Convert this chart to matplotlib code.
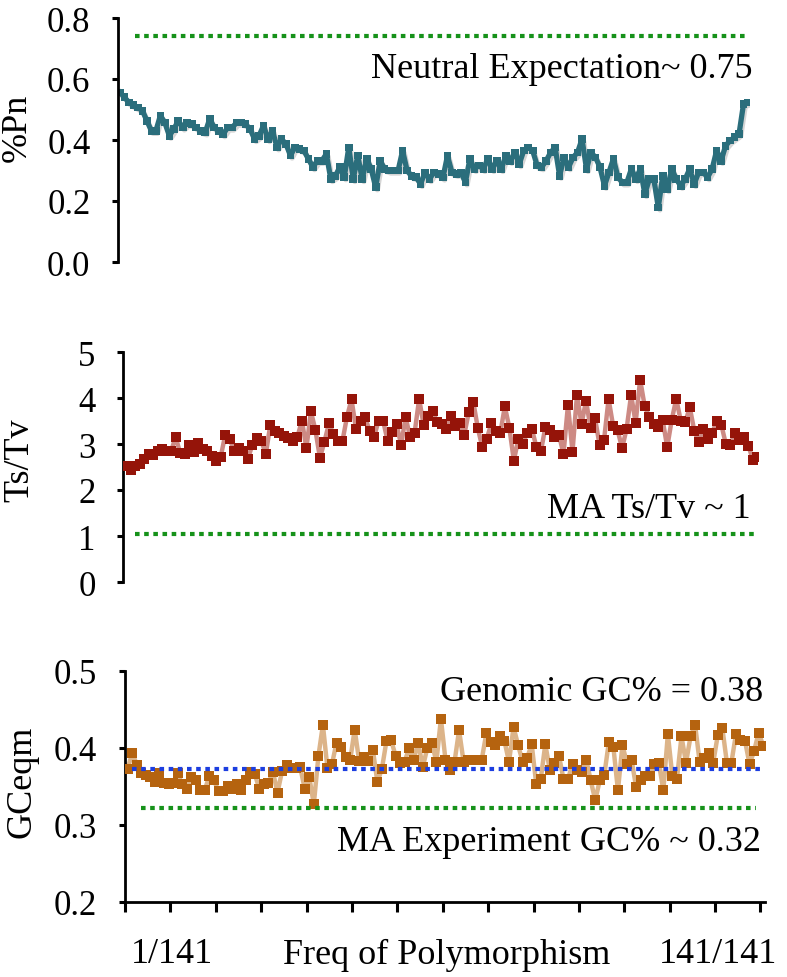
import numpy as np
import matplotlib.pyplot as plt
import matplotlib.patheffects as pe

# values, one per frequency class (1/141 .. 141/141)
pn = [0.556, 0.540, 0.523, 0.514, 0.506, 0.496, 0.463, 0.430, 0.430, 0.480,
      0.457, 0.414, 0.436, 0.463, 0.441, 0.455, 0.452, 0.441, 0.430, 0.425,
      0.469, 0.441, 0.430, 0.419, 0.441, 0.441, 0.457, 0.457, 0.452, 0.436,
      0.403, 0.414, 0.447, 0.403, 0.430, 0.376, 0.403, 0.387, 0.349, 0.376,
      0.371, 0.365, 0.338, 0.311, 0.332, 0.332, 0.354, 0.272, 0.282, 0.311,
      0.278, 0.376, 0.272, 0.349, 0.272, 0.338, 0.305, 0.245, 0.332, 0.305,
      0.300, 0.300, 0.300, 0.365, 0.300, 0.282, 0.278, 0.256, 0.294, 0.272,
      0.294, 0.289,
      0.277, 0.348, 0.294, 0.289, 0.294, 0.261, 0.338, 0.305, 0.316, 0.305,
      0.338, 0.305, 0.332, 0.305, 0.348, 0.332, 0.359, 0.321, 0.365, 0.376,
      0.365, 0.316, 0.311, 0.332, 0.359, 0.376, 0.283, 0.343, 0.311, 0.343,
      0.359, 0.403, 0.305, 0.359, 0.343, 0.311, 0.250, 0.294, 0.338, 0.278,
      0.261, 0.261, 0.305, 0.272, 0.305, 0.223, 0.272, 0.272, 0.179, 0.283,
      0.239, 0.305, 0.272, 0.250, 0.272, 0.305, 0.256, 0.294, 0.294, 0.278,
      0.305, 0.365, 0.332, 0.381, 0.398, 0.409, 0.420, 0.518, 0.523]

tstv = [2.53, 2.43, 2.53, 2.57, 2.67, 2.78, 2.77, 2.84, 2.89, 2.85,
        2.84, 3.16, 2.80, 2.78, 2.98, 2.82, 3.02, 2.89, 2.84, 2.75,
        2.64, 2.72, 3.20, 3.11, 2.84, 2.92, 2.85, 2.67, 2.98, 3.13,
        3.07, 2.78, 3.42, 3.29, 3.23, 3.18, 3.13, 3.06, 3.15, 3.51,
        2.91, 3.71, 3.30, 2.70, 3.05, 3.45, 3.22, 3.07, 3.07, 3.59,
        3.97, 3.33, 3.51, 3.58, 3.29, 3.15, 3.51, 3.51, 3.07, 3.27,
        3.43, 2.98, 3.58, 3.15, 3.25, 3.98, 3.41, 3.61, 3.72, 3.47,
        3.43,
        3.33, 3.61, 3.40, 3.45, 3.20, 3.69, 3.92, 3.35, 2.93, 3.11,
        3.45, 3.29, 3.24, 3.82, 3.35, 2.64, 3.11, 3.01, 3.25, 3.33,
        2.93, 2.84, 3.38, 3.30, 3.16, 3.20, 2.78, 3.85, 2.83, 4.07,
        3.43, 3.94, 3.35, 3.56, 2.98, 3.09, 3.98, 3.40, 3.30, 2.91,
        3.33, 4.07, 3.46, 4.40, 3.83, 3.59, 3.43, 3.38, 3.52, 2.93,
        3.52, 3.98, 3.51, 3.47, 3.80, 3.29, 3.04, 3.33, 3.11, 3.24,
        3.51, 3.42, 3.00, 2.98, 3.24, 3.09, 3.16, 2.96, 2.66, 2.72]

gc = [0.373, 0.394, 0.378, 0.367, 0.365, 0.362, 0.356, 0.367, 0.354, 0.353,
      0.354, 0.367, 0.353, 0.347, 0.362, 0.358, 0.345, 0.346, 0.364, 0.358,
      0.344, 0.344, 0.351, 0.347, 0.353, 0.346, 0.358, 0.369, 0.366, 0.347,
      0.353, 0.355, 0.369, 0.342, 0.370, 0.378, 0.374, 0.374, 0.375, 0.347,
      0.362, 0.327, 0.389, 0.430, 0.374, 0.379, 0.407, 0.401, 0.388, 0.384,
      0.424, 0.383, 0.388, 0.383, 0.398, 0.356, 0.373, 0.409, 0.411, 0.390,
      0.381, 0.382, 0.400, 0.385, 0.407, 0.375, 0.400, 0.407, 0.382, 0.438,
      0.385,
      0.371, 0.382, 0.423, 0.382, 0.385, 0.385, 0.385, 0.385, 0.419, 0.408,
      0.404, 0.415, 0.409, 0.382, 0.427, 0.404, 0.382, 0.387, 0.405, 0.353,
      0.360, 0.405, 0.371, 0.381, 0.390, 0.360, 0.360, 0.379, 0.371, 0.369,
      0.385, 0.358, 0.332, 0.358, 0.365, 0.408, 0.401, 0.345, 0.404, 0.379,
      0.385, 0.349, 0.358, 0.363, 0.363, 0.379, 0.381, 0.345, 0.418, 0.363,
      0.360, 0.415, 0.381, 0.415, 0.430, 0.382, 0.387, 0.394, 0.381, 0.417,
      0.426, 0.381, 0.381, 0.418, 0.410, 0.409, 0.379, 0.396, 0.420, 0.403]

neutral_pn = 0.74
ma_tstv = 1.04
genomic_gc = 0.373
ma_gc = 0.322

plt.rcParams['font.family'] = ['Liberation Serif', 'DejaVu Serif']

W, H = 787, 978
fig = plt.figure(figsize=(W / 100, H / 100), dpi=100)


def make_ax(left, right, top, bottom):
    return fig.add_axes([left / W, 1 - bottom / H, (right - left) / W, (bottom - top) / H])


green = '#16921a'
dot = (0, (1.1, 1.1))
fs = 26


def style(ax):
    for s in ['top', 'right']:
        ax.spines[s].set_visible(False)
    ax.spines['left'].set_linewidth(2)
    ax.tick_params(axis='y', direction='out', length=4, width=2.2, pad=16, labelsize=25)


# --- top panel: %Pn
x = np.arange(len(pn))
ax1 = make_ax(118.2, 749.8, 19, 263)
ax1.set_xlim(-0.4, 140.4)
ax1.set_ylim(0, 0.8)
style(ax1)
ax1.spines['bottom'].set_visible(False)
ax1.set_xticks([])
ax1.set_yticks([0, 0.2, 0.4, 0.6, 0.8])
ax1.set_yticklabels(['0.0', '0.2', '0.4', '0.6', '0.8'])
ax1.plot(x, pn, color='#2b6e7c', lw=3.8, marker='s', ms=5.5, mew=0,
         path_effects=[pe.SimpleLineShadow(offset=(1.2, -1.8), shadow_color='#888888', alpha=0.35),
                       pe.Normal()])
ax1.hlines(neutral_pn, 3.3, 140, colors=green, lw=3, linestyles=dot)
ax1.text(141, 0.635, 'Neutral Expectation~ 0.75', ha='right', va='center', fontsize=fs)

# --- middle panel: Ts/Tv
x = np.arange(len(tstv))
ax2 = make_ax(123.3, 758.3, 353, 583)
ax2.set_xlim(-0.6, 140.2)
ax2.set_ylim(0, 5)
style(ax2)
ax2.spines['bottom'].set_visible(False)
ax2.set_xticks([])
ax2.set_yticks(range(6))
ax2.plot(x, tstv, color='#cd8a84', lw=3.2, zorder=2)
ax2.plot(x, tstv, ls='none', marker='s', ms=7, color='#951409', mew=0, zorder=3)
ax2.hlines(ma_tstv, 2, 140, colors=green, lw=3, linestyles=dot)
ax2.text(138.5, 1.59, 'MA Ts/Tv ~ 1', ha='right', va='center', fontsize=fs)

# --- bottom panel: GCeqm
x = np.arange(len(gc))
ax3 = make_ax(125, 765, 672, 903)
ax3.set_xlim(-0.6, 140.4)
ax3.set_ylim(0.2, 0.5)
style(ax3)
ax3.spines['bottom'].set_linewidth(2)
ax3.set_yticks([0.2, 0.3, 0.4, 0.5])
ax3.set_xticks(np.arange(0, 141, 10) - 0.6)
ax3.set_xticklabels([])
ax3.tick_params(axis='x', direction='out', length=7, width=2.2)
ax3.plot(x, gc, color='#dcb489', lw=3.2, zorder=2)
ax3.plot(x, gc, ls='none', marker='s', ms=7.3, color='#b5630f', mew=0, zorder=3)
ax3.hlines(genomic_gc, 1, 140, colors='#1c3ee0', lw=3, linestyles=dot, zorder=4)
ax3.hlines(ma_gc, 3, 138.5, colors=green, lw=3, linestyles=dot, zorder=4)
ax3.text(140, 0.474, 'Genomic GC% = 0.38', ha='right', va='center', fontsize=fs)
ax3.text(139.6, 0.278, 'MA Experiment GC% ~ 0.32', ha='right', va='center', fontsize=fs)

# y labels and x caption
fig.text(17 / W, 1 - 128 / H, '%Pn', rotation=90, ha='center', va='center', fontsize=fs)
fig.text(20 / W, 1 - 460 / H, 'Ts/Tv', rotation=90, ha='center', va='center', fontsize=fs)
fig.text(22 / W, 1 - 782 / H, 'GCeqm', rotation=90, ha='center', va='center', fontsize=fs)
fig.text(172 / W, 1 - 955 / H, '1/141', ha='center', va='center', fontsize=fs)
fig.text(447 / W, 1 - 955 / H, 'Freq of Polymorphism', ha='center', va='center', fontsize=fs)
fig.text(718 / W, 1 - 955 / H, '141/141', ha='center', va='center', fontsize=fs)

fig.savefig('out.png', dpi=100)
